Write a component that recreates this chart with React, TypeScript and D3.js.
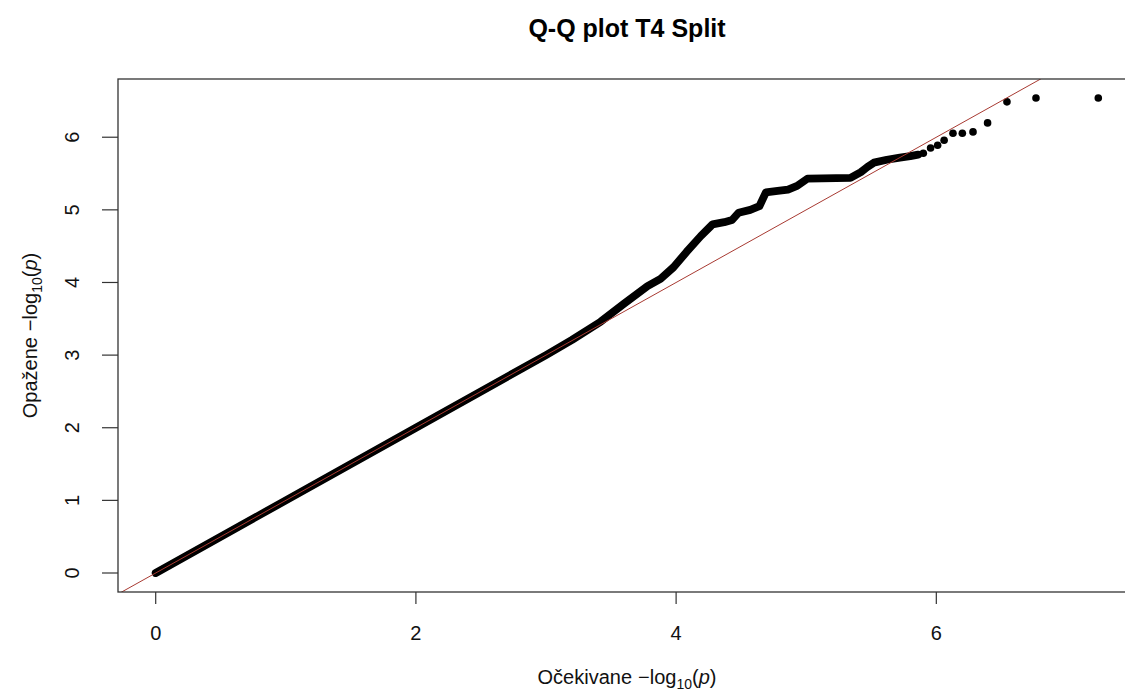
import React from "react";
import * as d3 from "d3";

// Dense part of the Q-Q cloud (points overlap into a continuous band)
const expectedBand = [0.0, 1.0, 2.0, 3.0, 3.2, 3.42, 3.6, 3.78, 3.88, 3.98, 4.08, 4.19, 4.28, 4.37, 4.43, 4.48, 4.57, 4.64, 4.69, 4.78, 4.86, 4.93, 5.01, 5.34, 5.42, 5.47, 5.52, 5.62, 5.72, 5.8, 5.86];
const observedBand = [0.0, 1.0, 2.0, 3.0, 3.21, 3.46, 3.71, 3.95, 4.05, 4.21, 4.42, 4.64, 4.8, 4.83, 4.86, 4.96, 5.0, 5.05, 5.24, 5.26, 5.28, 5.33, 5.43, 5.44, 5.52, 5.59, 5.65, 5.69, 5.72, 5.74, 5.76];

// Sparse tail: individual points
const expectedTail = [5.9, 5.956, 6.01, 6.06, 6.128, 6.2, 6.282, 6.394, 6.543, 6.766, 7.245];
const observedTail = [5.78, 5.852, 5.89, 5.959, 6.055, 6.055, 6.073, 6.197, 6.487, 6.54, 6.54];

const xTicks = [0, 2, 4, 6];
const yTicks = [0, 1, 2, 3, 4, 5, 6];

const titleText = "Q-Q plot T4 Split";
const xLabelWord = "Očekivane";
const yLabelWord = "Opažene";

const W = 1125;
const H = 693;
const plotLeft = 118;
const plotRight = 1136;
const plotTop = 79;
const plotBottom = 592;

function padded(vals: number[]): [number, number] {
  const [lo, hi] = d3.extent(vals) as [number, number];
  const r = hi - lo;
  return [lo - 0.04 * r, hi + 0.04 * r];
}

export default function App() {
  const allX = [...expectedBand, ...expectedTail];
  const allY = [...observedBand, ...observedTail];
  const xDom = padded(allX);
  const yDom = padded(allY);
  const x = d3.scaleLinear().domain(xDom).range([plotLeft, plotRight]);
  const y = d3.scaleLinear().domain(yDom).range([plotBottom, plotTop]);

  const bandData = expectedBand.map((e, i) => [e, observedBand[i]] as [number, number]);
  const tailData = expectedTail.map((e, i) => [e, observedTail[i]] as [number, number]);
  const line = d3
    .line<[number, number]>()
    .x((d) => x(d[0]))
    .y((d) => y(d[1]));

  const lo = Math.min(xDom[0], yDom[0]) - 1;
  const hi = Math.max(xDom[1], yDom[1]) + 1;

  const font = "'Liberation Sans', Arial, Helvetica, sans-serif";
  const fs = 20;

  return (
    <svg
      width={W}
      height={H}
      viewBox={`0 0 ${W} ${H}`}
      style={{ position: "absolute", left: 0, top: 0, display: "block", background: "#fff" }}
      fontFamily={font}
    >
      <rect x={0} y={0} width={W} height={H} fill="#fff" />
      <defs>
        <clipPath id="plotClip">
          <rect x={plotLeft} y={plotTop} width={plotRight - plotLeft} height={plotBottom - plotTop} />
        </clipPath>
      </defs>

      <text x={(plotLeft + plotRight) / 2} y={37} textAnchor="middle" fontWeight="bold" fontSize={25} fill="#000">
        {titleText}
      </text>

      <g clipPath="url(#plotClip)">
        <path
          d={line(bandData) || ""}
          fill="none"
          stroke="#000"
          strokeWidth={7.8}
          strokeLinecap="round"
          strokeLinejoin="round"
        />
        {tailData.map((d, i) => (
          <circle key={i} cx={x(d[0])} cy={y(d[1])} r={3.8} fill="#000" />
        ))}
        <line x1={x(lo)} y1={y(lo)} x2={x(hi)} y2={y(hi)} stroke="#a83a32" strokeWidth={1} />
      </g>

      <rect
        x={plotLeft}
        y={plotTop}
        width={plotRight - plotLeft}
        height={plotBottom - plotTop}
        fill="none"
        stroke="#333"
        strokeWidth={1.3}
      />

      {/* x axis */}
      <g>
        {xTicks.map((t) => (
          <g key={t}>
            <line x1={x(t)} x2={x(t)} y1={plotBottom} y2={plotBottom + 12} stroke="#333" strokeWidth={1.2} />
            <text x={x(t)} y={640} textAnchor="middle" fontSize={fs} fill="#111">
              {t}
            </text>
          </g>
        ))}
      </g>

      {/* y axis */}
      <g>
        {yTicks.map((t) => (
          <g key={t}>
            <line x1={plotLeft - 16} x2={plotLeft} y1={y(t)} y2={y(t)} stroke="#333" strokeWidth={1.2} />
            <text
              transform={`translate(79,${y(t)}) rotate(-90)`}
              textAnchor="middle"
              fontSize={fs}
              fill="#111"
            >
              {t}
            </text>
          </g>
        ))}
      </g>

      {/* x label */}
      <text x={(plotLeft + plotRight) / 2} y={684} textAnchor="middle" fontSize={fs} fill="#111">
        {xLabelWord}
        <tspan dx={6}>{"\u2212log"}</tspan>
        <tspan dy={5} fontSize={14}>10</tspan>
        <tspan dy={-5}>(</tspan>
        <tspan fontStyle="italic">p</tspan>
        <tspan>)</tspan>
      </text>

      {/* y label */}
      <text
        transform={`translate(37,${(plotTop + plotBottom) / 2}) rotate(-90)`}
        textAnchor="middle"
        fontSize={fs}
        fill="#111"
      >
        {yLabelWord}
        <tspan dx={6}>{"\u2212log"}</tspan>
        <tspan dy={5} fontSize={14}>10</tspan>
        <tspan dy={-5}>(</tspan>
        <tspan fontStyle="italic">p</tspan>
        <tspan>)</tspan>
      </text>
    </svg>
  );
}
